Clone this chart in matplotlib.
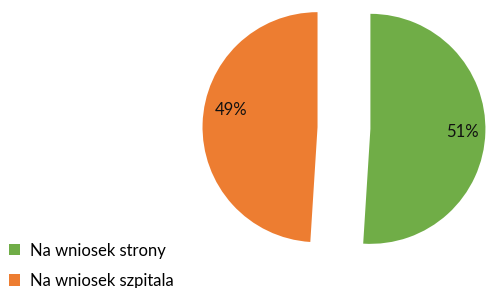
import matplotlib.pyplot as plt
import numpy as np

labels = ['Na wniosek strony', 'Na wniosek szpitala']
values = [51, 49]
colors = ['#70AD47', '#ED7D31']

plt.rcParams['font.family'] = ['Lato', 'DejaVu Sans']

fig = plt.figure(figsize=(4.86, 2.88), dpi=100)
ax = fig.add_axes([0, 0, 1, 1])

wedges, texts, autotexts = ax.pie(
    values, colors=colors, startangle=90, counterclock=False,
    explode=[0.23, 0.23], autopct='%1.0f%%', pctdistance=0.8,
    shadow={'ox': 0.8, 'oy': -3.0, 'shade': 0.6},
    wedgeprops={'linewidth': 0},
    textprops={'fontsize': 12, 'color': '#111111'})

# orange label sits a bit higher than the wedge middle
cx, cy = wedges[1].center
ang = np.deg2rad(169)
autotexts[1].set_position((cx + 0.77 * np.cos(ang), cy + 0.77 * np.sin(ang)))

ax.set_xlim(-2.991, 1.235)
ax.set_ylim(-1.391, 1.113)
ax.set_aspect('auto')
ax.axis('off')

fig.legend(wedges, labels, loc='upper left', bbox_to_anchor=(0.009, 0.175),
           frameon=False, fontsize=12, handlelength=0.66, handleheight=0.66,
           handletextpad=0.55, labelspacing=0.85, borderaxespad=0,
           borderpad=0.3)

plt.savefig('out.png', dpi=100)
